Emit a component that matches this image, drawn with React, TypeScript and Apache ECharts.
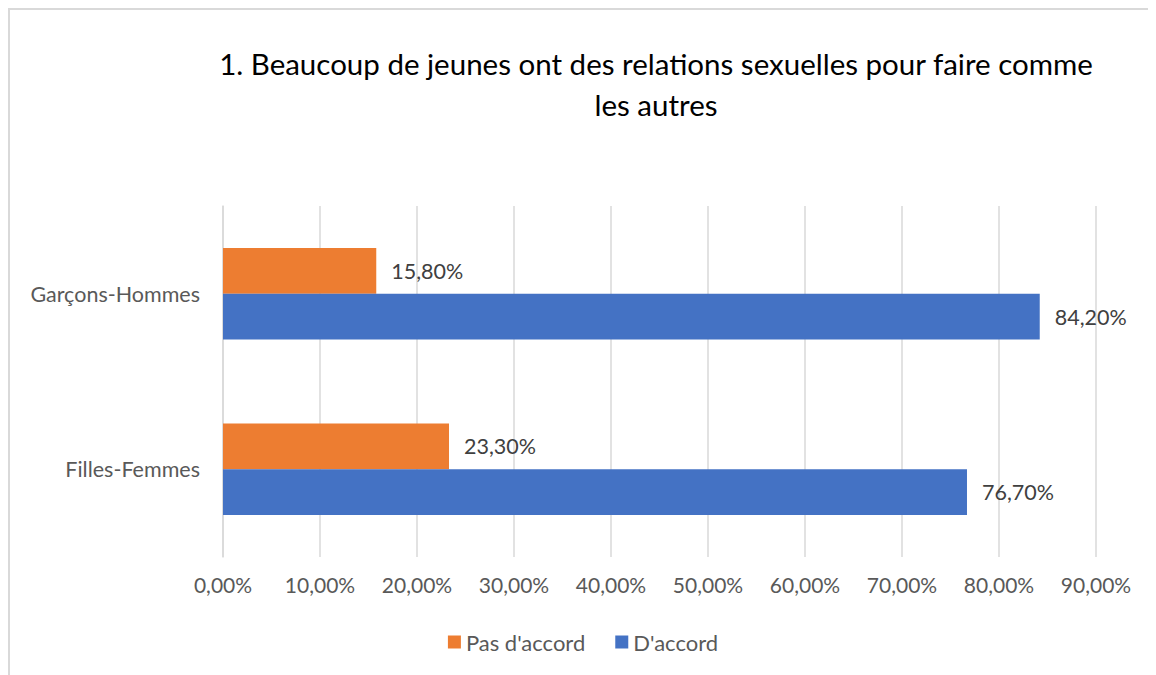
import React, { useEffect, useRef } from "react";
import * as echarts from "echarts";

const categories = ["Filles-Femmes", "Garçons-Hommes"];
const pasDaccord = [23.3, 15.8];
const daccord = [76.7, 84.2];
const seriesNames = ["Pas d'accord", "D'accord"];
const titleLines = ["1. Beaucoup de jeunes ont des relations sexuelles pour faire comme", "les autres"];

const fmt = (v: number) => v.toFixed(2).replace(".", ",") + "%";
const FONT = "Lato, 'Liberation Sans', sans-serif";

export default function App() {
  const ref = useRef<HTMLDivElement>(null);
  useEffect(() => {
    if (!ref.current) return;
    const chart = echarts.init(ref.current, null, { renderer: "svg" });
    const labelStyle = { fontFamily: FONT, fontSize: 21.5, color: "#404040" };
    chart.setOption({
      animation: false,
      textStyle: { fontFamily: FONT },
      title: {
        text: titleLines.join("\n"),
        left: 641,
        top: 28,
        textAlign: "center",
        textStyle: { fontFamily: FONT, fontSize: 29.5, fontWeight: "normal", color: "#000", lineHeight: 41 },
      },
      legend: {
        data: seriesNames,
        left: "center",
        top: 616,
        itemWidth: 13,
        itemHeight: 13,
        itemGap: 30,
        icon: "rect",
        textStyle: { fontFamily: FONT, fontSize: 22, color: "#595959" },
      },
      grid: { left: 213, right: 60, top: 196, bottom: 118, containLabel: false },
      xAxis: {
        type: "value",
        min: 0,
        max: 90,
        interval: 10,
        axisLine: { show: false },
        axisTick: { show: false },
        splitLine: { show: true, lineStyle: { color: "#d9d9d9", width: 1.5 } },
        axisLabel: { formatter: (v: number) => fmt(v), fontFamily: FONT, fontSize: 21, color: "#595959", margin: 17 },
      },
      yAxis: {
        type: "category",
        data: categories,
        axisLine: { show: true, lineStyle: { color: "#d9d9d9", width: 1.5 } },
        axisTick: { show: false },
        axisLabel: { fontFamily: FONT, fontSize: 21.5, color: "#595959", margin: 23 },
      },
      series: [
        {
          name: seriesNames[0],
          type: "bar",
          data: pasDaccord,
          barGap: "0%",
          barCategoryGap: "48%",
          itemStyle: { color: "#ED7D31" },
          label: { show: true, position: "right", distance: 15, formatter: (p: any) => fmt(p.value), ...labelStyle },
        },
        {
          name: seriesNames[1],
          type: "bar",
          data: daccord,
          barGap: "0%",
          barCategoryGap: "48%",
          itemStyle: { color: "#4472C4" },
          label: { show: true, position: "right", distance: 15, formatter: (p: any) => fmt(p.value), ...labelStyle },
        },
      ],
    });
    return () => chart.dispose();
  }, []);
  return (
    <div
      ref={ref}
      style={{
        width: 1148,
        height: 667,
        boxSizing: "border-box",
        borderTop: "2px solid #d9d9d9",
        borderLeft: "2px solid #d9d9d9",
      }}
    />
  );
}
